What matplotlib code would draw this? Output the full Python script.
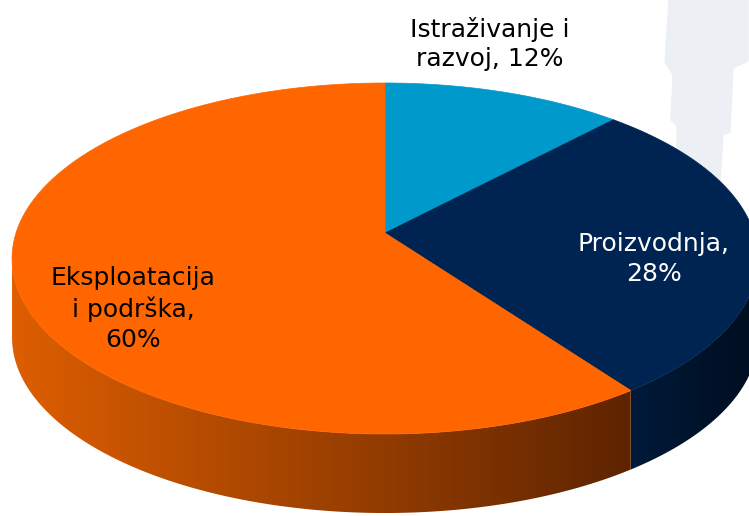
import numpy as np
import matplotlib.pyplot as plt
from matplotlib.patches import Polygon
from matplotlib.colors import LinearSegmentedColormap

# podaci
labels = ['Istraživanje i\nrazvoj, 12%', 'Proizvodnja,\n28%', 'Eksploatacija\ni podrška,\n60%']
shares = [12, 28, 60]
top_colors = ['#0099CC', '#002451', '#FF6600']
side_colors = [('#007AA3', '#004F6B'), ('#001A3A', '#000D1E'), ('#DE5E00', '#5E2400')]
label_colors = ['black', 'white', 'black']
label_pos = [(490, 44), (654, 259), (133, 309)]

# geometrija 3D pite (piksel koordinate)
cx, cy = 385, 233
A, B, k = 369, 171.8, 0.1453
depth = 79


def project(phi):
    u, v = np.cos(phi), np.sin(phi)
    d = 1 + k * v
    return cx + A * u / d, cy - B * v / d


fig = plt.figure(figsize=(7.49, 5.16), dpi=100)
ax = fig.add_axes([0, 0, 1, 1])
ax.set_xlim(0, 749)
ax.set_ylim(516, 0)
ax.axis('off')

# svijetla silueta u pozadini
bg = [(669, 0), (748, 0), (748, 61), (733, 68), (730, 132), (723, 135),
      (717, 230), (677, 230), (677, 126), (671, 120), (673, 75), (665, 62)]
ax.add_patch(Polygon(bg, closed=True, color='#ECF0F4', zorder=0))

left_sil = -np.pi + np.arcsin(k)
right_sil = -np.arcsin(k)

start = np.pi / 2
spans = []
for s in shares:
    end = start - s / 100 * 2 * np.pi
    spans.append((start, end))
    start = end

# bocne strane
for (a0, a1), cols in zip(spans, side_colors):
    hi = min(a0, right_sil)
    lo = max(a1, left_sil)
    if hi <= lo:
        continue
    t = np.linspace(hi, lo, 200)
    xs, ys = project(t)
    pts = list(zip(xs, ys)) + list(zip(xs[::-1], ys[::-1] + depth))
    poly = Polygon(pts, closed=True, facecolor='none', edgecolor='none', zorder=1)
    ax.add_patch(poly)
    cmap = LinearSegmentedColormap.from_list('s', [cols[0], cols[1]])
    grad = np.linspace(0, 1, 256).reshape(1, -1)
    x0, x1 = xs.min(), xs.max()
    im = ax.imshow(grad, cmap=cmap, aspect='auto', extent=(x0, x1, ys.max() + depth, ys.min()),
                   zorder=1, interpolation='bilinear')
    im.set_clip_path(poly)

# gornje plohe
for (a0, a1), c in zip(spans, top_colors):
    t = np.linspace(a0, a1, 300)
    xs, ys = project(t)
    pts = [(cx, cy)] + list(zip(xs, ys))
    ax.add_patch(Polygon(pts, closed=True, facecolor=c, edgecolor=c, lw=0.5, zorder=2))

for lab, (x, y), c in zip(labels, label_pos, label_colors):
    ax.text(x, y, lab, ha='center', va='center', color=c, fontsize=18,
            family='DejaVu Sans', linespacing=1.3, zorder=3)

fig.savefig('out.png', dpi=100)
